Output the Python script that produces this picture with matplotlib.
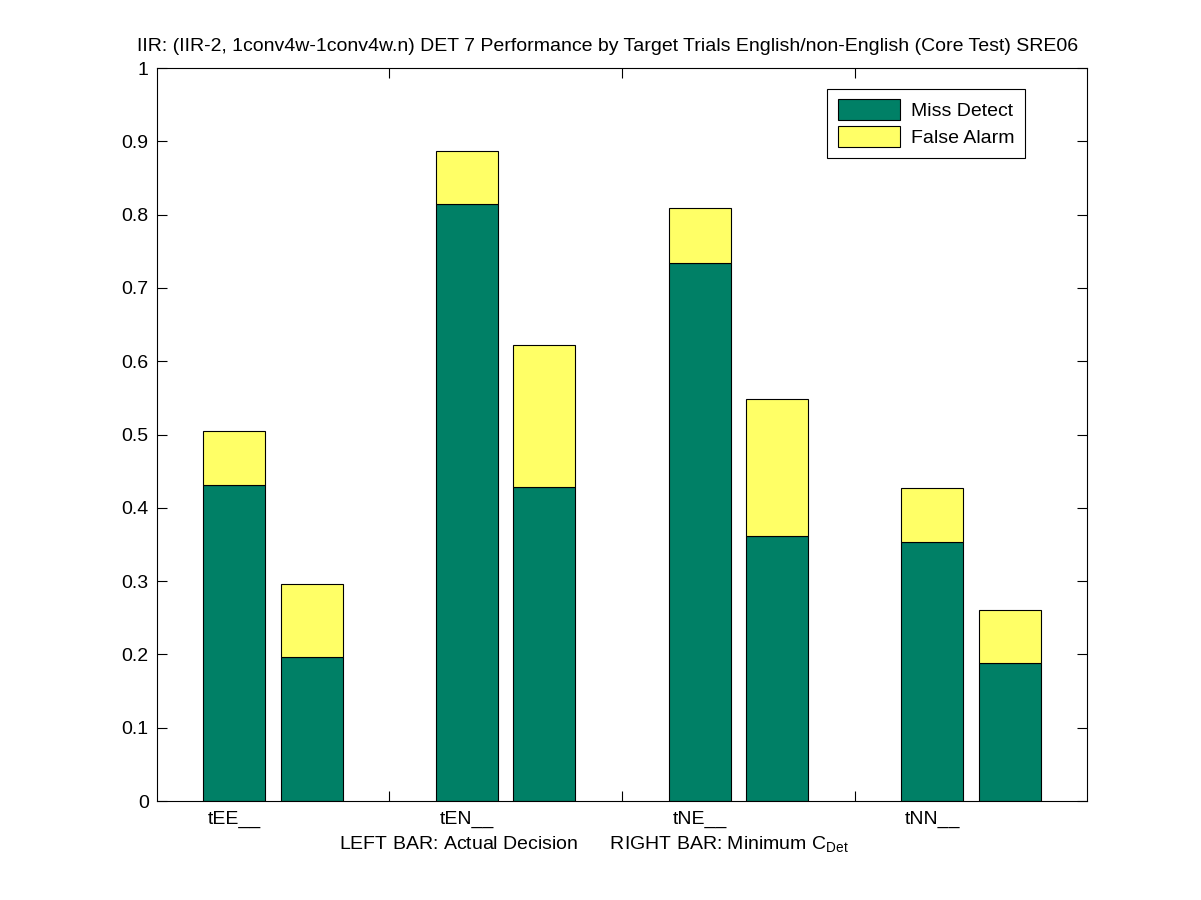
import numpy as np
import matplotlib
matplotlib.use('Agg')
import matplotlib.pyplot as plt

plt.rcParams['font.family'] = ['Liberation Sans', 'DejaVu Sans']
font_size = 14

# data
groups = ['tEE__', 'tEN__', 'tNE__', 'tNN__']
miss_actual = [0.431, 0.814, 0.734, 0.353]
fa_actual = [0.074, 0.073, 0.075, 0.074]
miss_min = [0.196, 0.428, 0.362, 0.188]
fa_min = [0.100, 0.194, 0.186, 0.073]

green = (0.0, 0.5, 0.4)
yellow = (1.0, 1.0, 0.4)

fig = plt.figure(figsize=(12.01, 9.0), dpi=100)
ax = fig.add_axes([0.1307, 0.11, 0.7744, 0.8144])

x_left = np.arange(len(groups)) * 3 + 1
x_right = x_left + 1
w = 0.8

ax.bar(x_left, miss_actual, w, color=green, edgecolor='black', linewidth=0.8, label='Miss Detect')
ax.bar(x_left, fa_actual, w, bottom=miss_actual, color=yellow, edgecolor='black', linewidth=0.8, label='False Alarm')
ax.bar(x_right, miss_min, w, color=green, edgecolor='black', linewidth=0.8)
ax.bar(x_right, fa_min, w, bottom=miss_min, color=yellow, edgecolor='black', linewidth=0.8)

ax.set_xlim(0, 12)
ax.set_ylim(0, 1)
ax.set_yticks(np.arange(0, 1.01, 0.1))
ax.set_yticklabels(['0'] + ['%.1f' % v for v in np.arange(0.1, 1.0, 0.1)] + ['1'])
ax.set_xticks([3, 6, 9])
ax.set_xticklabels([])
ax.set_xticks(x_left, minor=True)
ax.set_xticklabels(groups, minor=True)
ax.tick_params(axis='both', which='major', direction='in', top=True, right=True,
               length=7, width=0.8, labelsize=font_size, pad=6)
ax.tick_params(axis='x', which='minor', length=0, labelsize=font_size, pad=7)
for s in ax.spines.values():
    s.set_linewidth(0.8)

ax.set_xlabel('LEFT BAR: Actual Decision      RIGHT BAR: Minimum C$_{\\mathregular{Det}}$',
              fontsize=font_size)
ax.xaxis.set_label_coords(0.47, -0.046)
ax.xaxis.label.set_va('top')
ax.set_title('IIR: (IIR-2, 1conv4w-1conv4w.n) DET 7 Performance by Target Trials '
             'English/non-English (Core Test) SRE06', fontsize=font_size, pad=12, x=0.4844)

leg = ax.legend(loc='upper right', bbox_to_anchor=(0.9333, 0.972), fontsize=font_size,
                fancybox=False, edgecolor='black', framealpha=1, borderaxespad=0,
                handlelength=3.2, handleheight=1.3, borderpad=0.55, labelspacing=0.3,
                handletextpad=0.55)
leg.get_frame().set_linewidth(0.8)

fig.savefig('out.png', dpi=100)
